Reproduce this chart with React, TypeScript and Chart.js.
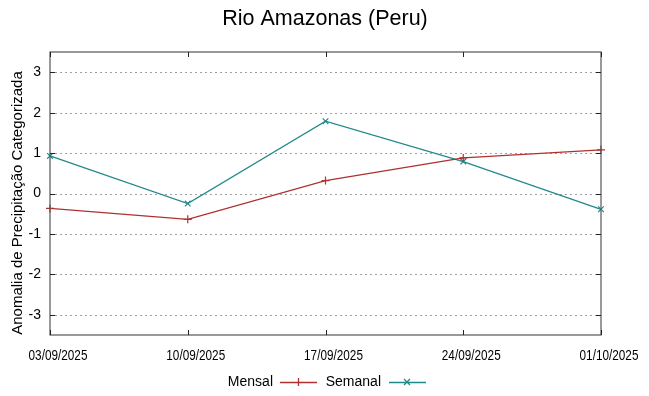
import React, { useEffect, useRef } from "react";
import { Chart, registerables } from "chart.js";

Chart.register(...registerables);

const title = "Rio Amazonas (Peru)";
const yAxisTitle = "Anomalia de Precipitação Categorizada";
const dates = ["03/09/2025", "10/09/2025", "17/09/2025", "24/09/2025", "01/10/2025"];
const mensal = [-0.37, -0.64, 0.32, 0.88, 1.08];
const semanal = [0.93, -0.25, 1.79, 0.79, -0.39];
const yTicks = [-3, -2, -1, 0, 1, 2, 3];

const RED = "#b03030";
const TEAL = "#238989";
const FONT = "'Liberation Sans', Arial, sans-serif";

const gridPlugin = {
  id: "dotgrid",
  beforeDatasetsDraw(chart: any) {
    const { ctx, chartArea: a } = chart;
    const ys = chart.scales.y;
    ctx.save();
    ctx.strokeStyle = "#a0a0a0";
    ctx.lineWidth = 1;
    ctx.setLineDash([2, 3]);
    ctx.beginPath();
    yTicks.forEach((v) => {
      const y = Math.round(ys.getPixelForValue(v)) + 0.5;
      ctx.moveTo(a.left, y);
      ctx.lineTo(a.right, y);
    });
    ctx.stroke();
    ctx.restore();
  },
};

const framePlugin = {
  id: "frame",
  afterDraw(chart: any) {
    const { ctx, chartArea: a } = chart;
    const xs = chart.scales.x;
    const ys = chart.scales.y;
    ctx.save();
    ctx.strokeStyle = "#555";
    ctx.lineWidth = 1.2;
    ctx.strokeRect(a.left, a.top, a.right - a.left, a.bottom - a.top);
    ctx.strokeStyle = "#222";
    ctx.lineWidth = 1;
    ctx.beginPath();
    yTicks.forEach((v) => {
      const y = Math.round(ys.getPixelForValue(v)) + 0.5;
      ctx.moveTo(a.left, y);
      ctx.lineTo(a.left + 5, y);
      ctx.moveTo(a.right, y);
      ctx.lineTo(a.right - 5, y);
    });
    dates.forEach((_, i) => {
      const x = Math.round(xs.getPixelForValue(i)) + 0.5;
      ctx.moveTo(x, a.bottom);
      ctx.lineTo(x, a.bottom - 5);
      ctx.moveTo(x, a.top);
      ctx.lineTo(x, a.top + 5);
    });
    ctx.stroke();

    // x labels: condensed, slightly right of ticks as in the reference
    ctx.fillStyle = "#000";
    ctx.font = `14px ${FONT}`;
    ctx.textAlign = "center";
    ctx.textBaseline = "middle";
    dates.forEach((d, i) => {
      const cx = xs.getPixelForValue(i) + 8;
      ctx.save();
      ctx.translate(cx, 356);
      ctx.scale(0.84, 1);
      ctx.fillText(d, 0, 0);
      ctx.restore();
    });

    // title
    ctx.font = `21.5px ${FONT}`;
    ctx.fillText(title, 325, 19);

    // y axis title
    ctx.save();
    ctx.translate(18, 203);
    ctx.rotate(-Math.PI / 2);
    ctx.font = `15px ${FONT}`;
    ctx.fillText(yAxisTitle, 0, 0);
    ctx.restore();

    // legend
    ctx.font = `14px ${FONT}`;
    ctx.textAlign = "right";
    const ly = 382;
    ctx.fillText("Mensal", 273, ly);
    ctx.fillText("Semanal", 381, ly);
    ctx.lineWidth = 1.3;
    ctx.strokeStyle = RED;
    ctx.beginPath();
    ctx.moveTo(280, ly + 0.5);
    ctx.lineTo(317, ly + 0.5);
    ctx.moveTo(298.5, ly - 4);
    ctx.lineTo(298.5, ly + 4);
    ctx.stroke();
    ctx.strokeStyle = TEAL;
    ctx.beginPath();
    ctx.moveTo(389, ly + 0.5);
    ctx.lineTo(426, ly + 0.5);
    ctx.moveTo(404, ly - 3);
    ctx.lineTo(410, ly + 3);
    ctx.moveTo(410, ly - 3);
    ctx.lineTo(404, ly + 3);
    ctx.stroke();
    ctx.restore();
  },
};

export default function App() {
  const ref = useRef<HTMLCanvasElement | null>(null);
  useEffect(() => {
    if (!ref.current) return;
    const chart = new Chart(ref.current, {
      type: "line",
      data: {
        labels: dates,
        datasets: [
          {
            label: "Mensal",
            data: mensal,
            borderColor: RED,
            backgroundColor: RED,
            borderWidth: 1.3,
            pointStyle: "cross",
            pointRadius: 4,
            pointBorderWidth: 1.2,
            tension: 0,
          },
          {
            label: "Semanal",
            data: semanal,
            borderColor: TEAL,
            backgroundColor: TEAL,
            borderWidth: 1.3,
            pointStyle: "crossRot",
            pointRadius: 4,
            pointBorderWidth: 1.2,
            tension: 0,
          },
        ],
      },
      options: {
        responsive: false,
        animation: false,
        layout: { padding: { top: 52, right: 48, left: 0, bottom: 0 } },
        plugins: {
          legend: { display: false },
          title: { display: false },
          tooltip: { enabled: false },
        },
        scales: {
          x: {
            type: "category",
            offset: false,
            grid: { display: false, drawTicks: false },
            border: { display: false },
            ticks: { display: false, autoSkip: false },
            afterFit(s: any) {
              s.height = 61;
            },
          },
          y: {
            min: -3.5,
            max: 3.5,
            afterBuildTicks(s: any) {
              s.ticks = yTicks.map((v) => ({ value: v }));
            },
            grid: { display: false, drawTicks: false },
            border: { display: false },
            ticks: {
              color: "#000",
              font: { family: FONT, size: 14 },
              padding: 9,
            },
            afterFit(s: any) {
              s.width = 50;
            },
          },
        },
      },
      plugins: [gridPlugin, framePlugin],
    });
    return () => chart.destroy();
  }, []);
  return (
    <div style={{ position: "absolute", left: 0, top: 0, width: 649, height: 396, background: "#fff" }}>
      <canvas ref={ref} width={649} height={396} style={{ display: "block" }} />
    </div>
  );
}
